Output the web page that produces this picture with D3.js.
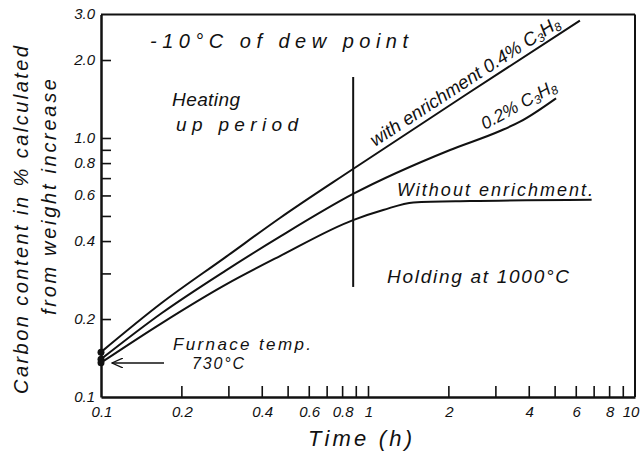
<!DOCTYPE html>
<html>
<head>
<meta charset="utf-8">
<script src="https://cdn.jsdelivr.net/npm/d3@7"></script>
<style>
  html, body { margin: 0; padding: 0; background: #fff; }
  svg text { font-family: "Liberation Sans", "DejaVu Sans", sans-serif; font-style: italic; fill: #111; }
</style>
</head>
<body>
<svg id="chart" width="644" height="457"></svg>
<script>
// ---- data ----
const timeWith04 = [0.1, 0.169, 0.292, 0.468, 0.879, 2.34, 6.22];
const carbonWith04 = [0.149, 0.231, 0.346, 0.491, 0.759, 1.475, 2.84];

const timeWith02 = [0.1, 0.169, 0.292, 0.468, 0.879, 2.03, 3.12, 3.71, 5.06];
const carbonWith02 = [0.140, 0.211, 0.307, 0.416, 0.608, 0.899, 1.064, 1.156, 1.423];

const timeWithout = [0.1, 0.169, 0.292, 0.468, 0.879, 1.14, 1.48, 2.41, 6.88];
const carbonWithout = [0.1357, 0.193, 0.271, 0.350, 0.482, 0.527, 0.564, 0.571, 0.5775];

const startTime = 0.1;
const startCarbon = [0.149, 0.140, 0.1357];

const holdStartTime = 0.88;          // boundary between heating and holding
const holdLineCarbon = [0.266, 1.72]; // extent of the drawn boundary line

const xTickValues = [0.2,0.3,0.4,0.5,0.6,0.7,0.8,0.9,1,2,3,4,5,6,7,8,9];
const xTickLabels = [0.1,0.2,0.4,0.6,0.8,1,2,4,6,8,10];
const yTickValues = [0.2,0.3,0.4,0.5,0.6,0.7,0.8,0.9,1.0,2.0];
const yTickLabels = [0.1,0.2,0.4,0.6,0.8,1.0,2.0,3.0];

// ---- scales ----
const x = d3.scaleLog().domain([0.1, 10]).range([101, 635]);
const y = d3.scaleLog().domain([0.1, 3.0]).range([397, 14.4]);

const svg = d3.select("#chart");

// frame (top & right)
svg.append("line").attr("x1", x(0.1)).attr("x2", x(10)).attr("y1", y(3)).attr("y2", y(3))
  .attr("stroke", "#111").attr("stroke-width", 2);
svg.append("line").attr("x1", x(10)).attr("x2", x(10)).attr("y1", y(3)).attr("y2", y(0.1))
  .attr("stroke", "#111").attr("stroke-width", 2);

// bottom axis: inward ticks
const xAxis = d3.axisBottom(x).tickValues(xTickValues).tickSizeInner(-11).tickSizeOuter(0).tickFormat("");
const gx = svg.append("g").attr("transform", `translate(0,${y(0.1)})`).call(xAxis);
gx.select(".domain").attr("stroke", "#111").attr("stroke-width", 2.5);
gx.selectAll(".tick line").attr("stroke", "#111").attr("stroke-width", 1.6);

// left axis: inward ticks
const yAxis = d3.axisLeft(y).tickValues(yTickValues).tickSizeInner(-10).tickSizeOuter(0).tickFormat("");
const gy = svg.append("g").attr("transform", `translate(${x(0.1)},0)`).call(yAxis);
gy.select(".domain").attr("stroke", "#111").attr("stroke-width", 2.5);
gy.selectAll(".tick line").attr("stroke", "#111").attr("stroke-width", 1.6);

// tick labels
svg.append("g").selectAll("text").data(xTickLabels).join("text")
  .attr("x", d => Math.min(x(d) + 1, 631)).attr("y", 417)
  .attr("text-anchor", "middle").attr("font-size", 15)
  .text(d => String(d));
svg.append("g").selectAll("text").data(yTickLabels).join("text")
  .attr("x", 95).attr("y", d => y(d) + 5)
  .attr("text-anchor", "end").attr("font-size", 15)
  .text(d => d.toFixed(1));

// curves
const line = d3.line().x(d => x(d[0])).y(d => y(d[1])).curve(d3.curveMonotoneX);
const series = [
  d3.zip(timeWith04, carbonWith04),
  d3.zip(timeWith02, carbonWith02),
  d3.zip(timeWithout, carbonWithout)
];
svg.append("g").selectAll("path").data(series).join("path")
  .attr("d", line).attr("fill", "none").attr("stroke", "#111").attr("stroke-width", 2);

// start dots
svg.append("g").selectAll("circle").data(startCarbon).join("circle")
  .attr("cx", x(startTime)).attr("cy", d => y(d)).attr("r", 3.5).attr("fill", "#111");

// holding boundary line
svg.append("line")
  .attr("x1", x(holdStartTime)).attr("x2", x(holdStartTime))
  .attr("y1", y(holdLineCarbon[1])).attr("y2", y(holdLineCarbon[0]))
  .attr("stroke", "#111").attr("stroke-width", 2);

// arrow pointing to start
const defs = svg.append("defs");
defs.append("marker").attr("id", "ah").attr("viewBox", "0 0 12 10").attr("refX", 11).attr("refY", 5)
  .attr("markerWidth", 12).attr("markerHeight", 10).attr("markerUnits", "userSpaceOnUse").attr("orient", "auto")
  .append("path").attr("d", "M0,0 L11,5 L0,10").attr("fill", "none").attr("stroke", "#111").attr("stroke-width", 1.3);
svg.append("line").attr("x1", 164).attr("x2", 112).attr("y1", 363).attr("y2", 363)
  .attr("stroke", "#111").attr("stroke-width", 1.3).attr("marker-end", "url(#ah)");

// annotations
function label(txt, px, py, size, opts = {}) {
  const t = svg.append("text").attr("x", px).attr("y", py).attr("font-size", size);
  if (opts.rot) t.attr("transform", `rotate(${opts.rot},${px},${py})`);
  if (opts.anchor) t.attr("text-anchor", opts.anchor);
  if (opts.len) t.attr("textLength", opts.len).attr("lengthAdjust", "spacing");
  t.text(txt);
  return t;
}
label("-10°C of dew point", 150, 48, 20, {len: 258});
label("Heating", 172, 106, 19, {len: 68});
label("up period", 176, 131, 19, {len: 122});
label("Without  enrichment.", 397, 196, 18, {len: 196});
label("Holding at 1000°C", 387, 283, 19, {len: 182});
label("Furnace temp.", 173, 350, 17, {len: 138});
label("730°C", 192, 369, 16, {len: 52});

// rotated labels with subscripts
const t1 = svg.append("text").attr("x", 375).attr("y", 147).attr("font-size", 18.5)
  .attr("transform", "rotate(-33,375,147)");
t1.append("tspan").text("with enrichment 0.4% C");
t1.append("tspan").attr("font-size", 12).attr("dy", 3).text("3");
t1.append("tspan").attr("dy", -3).text("H");
t1.append("tspan").attr("font-size", 12).attr("dy", 3).text("8");

const t2 = svg.append("text").attr("x", 485).attr("y", 130).attr("font-size", 17.5)
  .attr("transform", "rotate(-29,485,130)");
t2.append("tspan").text("0.2% C");
t2.append("tspan").attr("font-size", 12).attr("dy", 3).text("3");
t2.append("tspan").attr("dy", -3).text("H");
t2.append("tspan").attr("font-size", 12).attr("dy", 3).text("8");

// axis titles
label("Time  (h)", 308, 446, 22, {len: 104});
svg.append("text").attr("transform", "translate(28,220) rotate(-90)")
  .attr("text-anchor", "middle").attr("font-size", 20)
  .attr("textLength", 348).attr("lengthAdjust", "spacing").text("Carbon content in % calculated");
svg.append("text").attr("transform", "translate(56,197) rotate(-90)")
  .attr("text-anchor", "middle").attr("font-size", 20)
  .attr("textLength", 236).attr("lengthAdjust", "spacing").text("from weight increase");
</script>
</body>
</html>
